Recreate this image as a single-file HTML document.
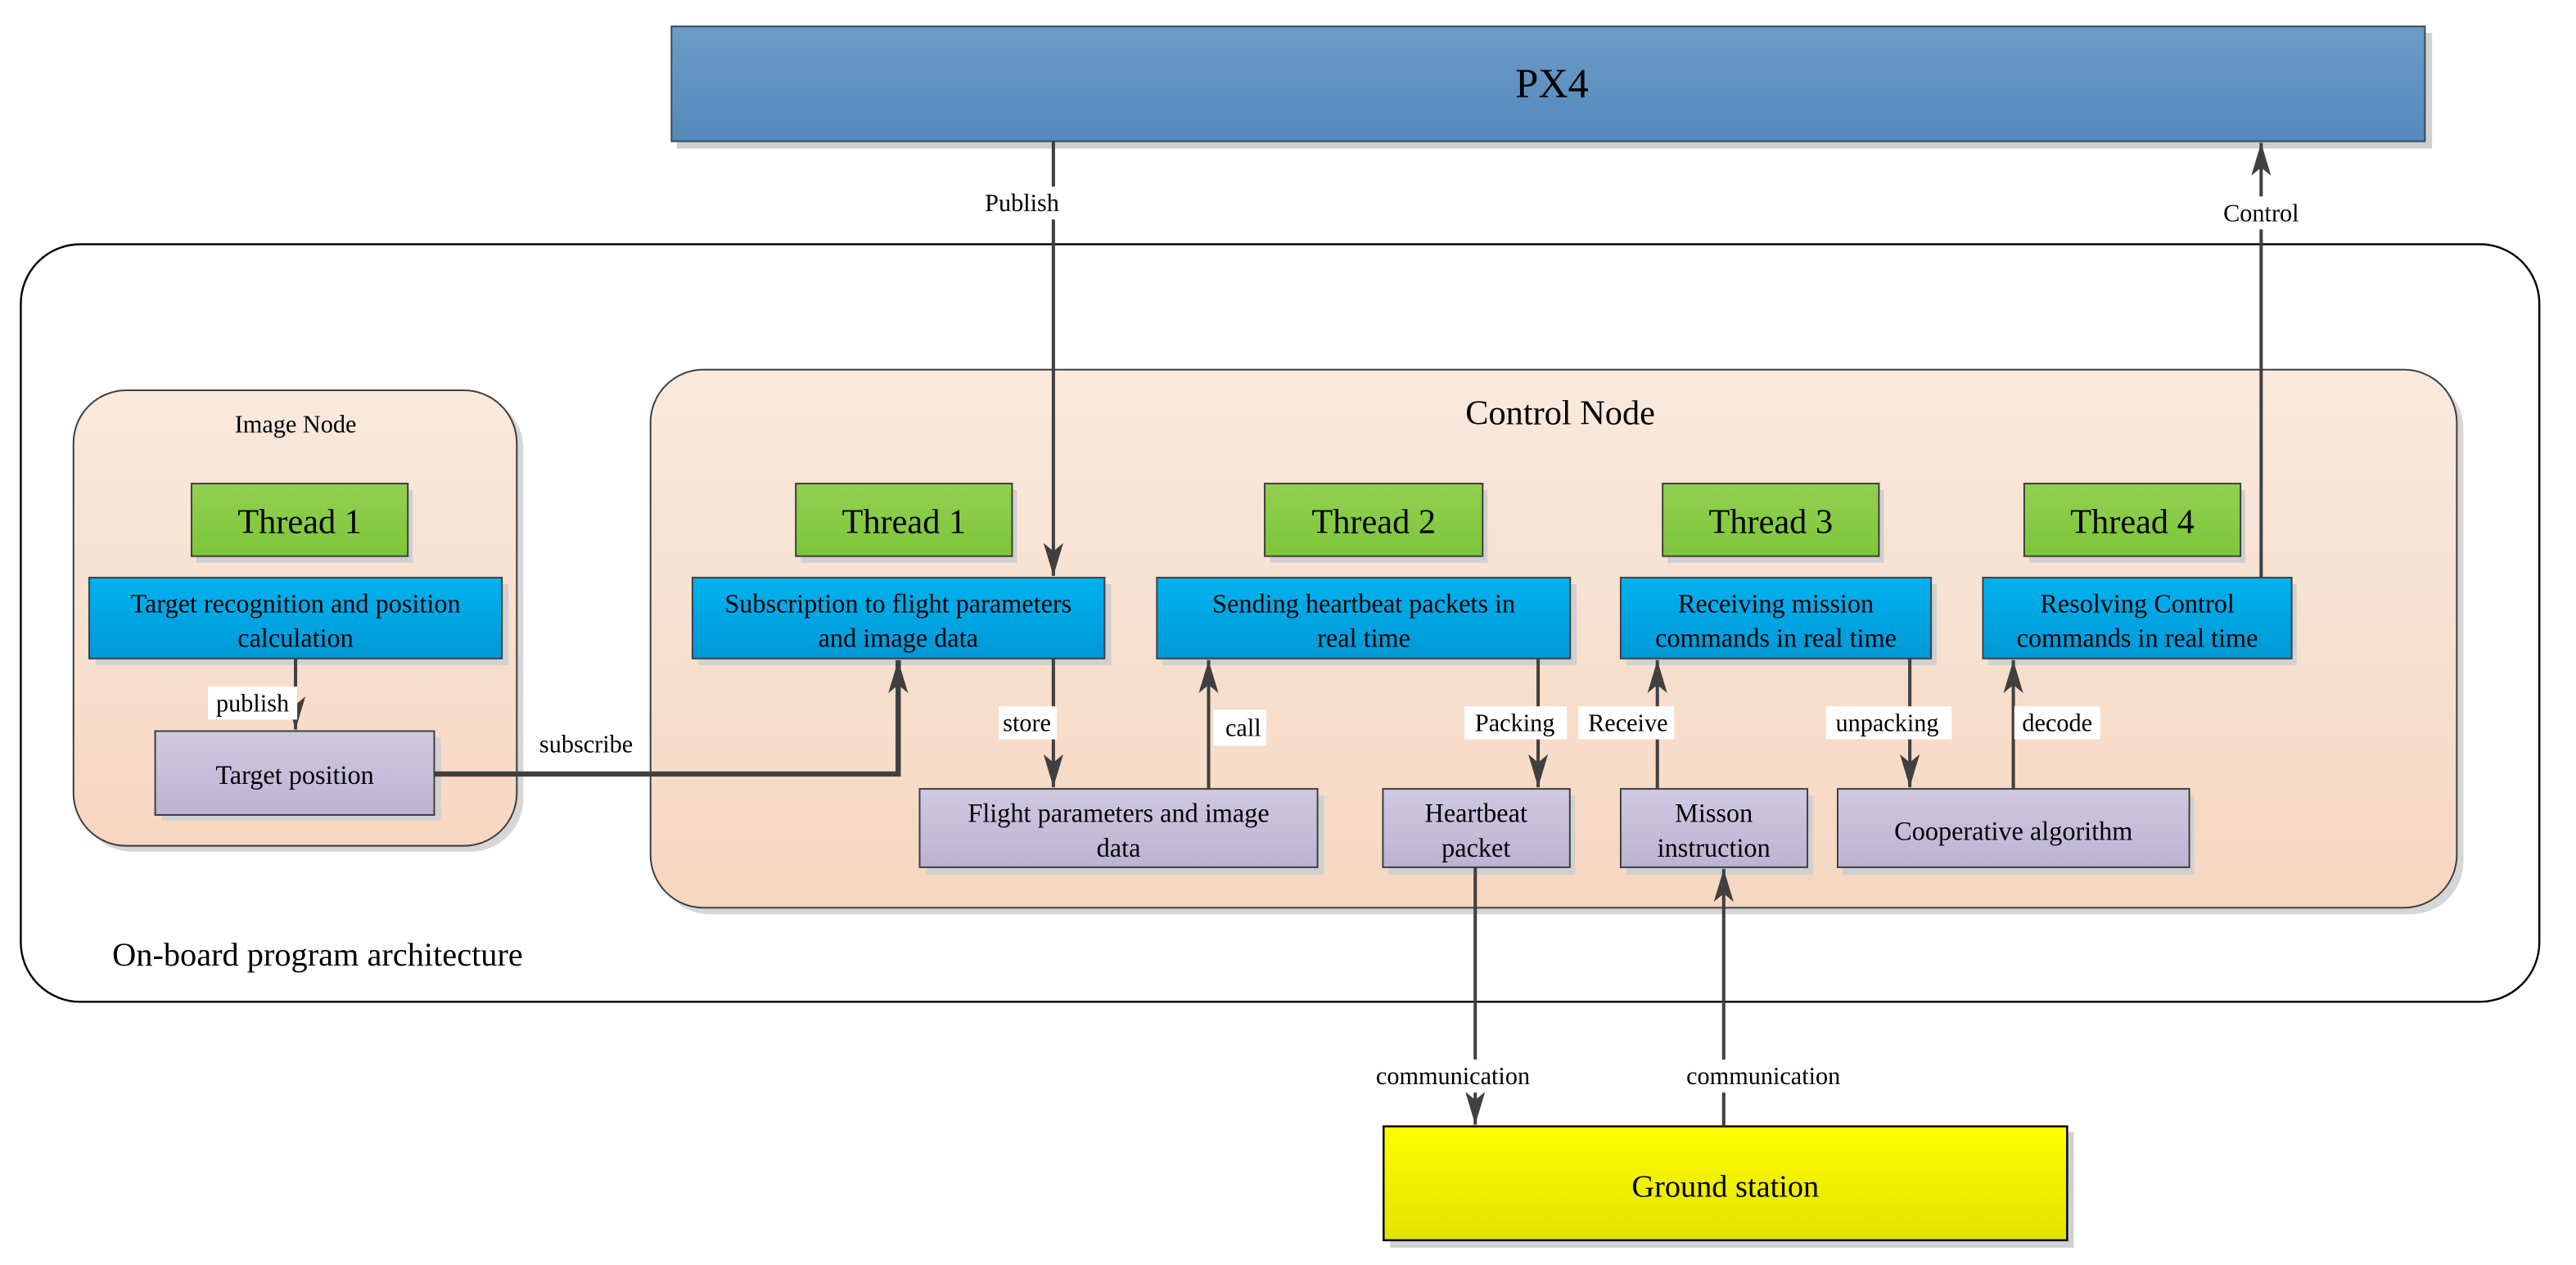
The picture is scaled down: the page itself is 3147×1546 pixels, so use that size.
<!DOCTYPE html>
<html><head><meta charset="utf-8"><style>html,body{margin:0;padding:0;background:#fff}svg{display:block}svg text{font-family:"Liberation Serif","DejaVu Serif",serif}</style></head>
<body>
<svg width="3147" height="1546" viewBox="0 0 1560.2 766.5" preserveAspectRatio="none" xmlns="http://www.w3.org/2000/svg">
<defs>
<linearGradient id="gb" x1="0" y1="0" x2="0" y2="1"><stop offset="0" stop-color="#6c9cc8"/><stop offset="1" stop-color="#5389bb"/></linearGradient>
<linearGradient id="gn" x1="0" y1="0" x2="0" y2="1"><stop offset="0" stop-color="#f9e9dd"/><stop offset="1" stop-color="#f6d7c1"/></linearGradient>
<linearGradient id="gg" x1="0" y1="0" x2="0" y2="1"><stop offset="0" stop-color="#93d050"/><stop offset="1" stop-color="#7cc63a"/></linearGradient>
<linearGradient id="gc" x1="0" y1="0" x2="0" y2="1"><stop offset="0" stop-color="#00b2f0"/><stop offset="1" stop-color="#0098d6"/></linearGradient>
<linearGradient id="gp" x1="0" y1="0" x2="0" y2="1"><stop offset="0" stop-color="#d0c9e1"/><stop offset="1" stop-color="#bbb3d1"/></linearGradient>
<linearGradient id="gy" x1="0" y1="0" x2="0" y2="1"><stop offset="0" stop-color="#ffff00"/><stop offset="1" stop-color="#e2e200"/></linearGradient>
<marker id="ah" viewBox="0 0 20 12" refX="20" refY="6" markerWidth="20" markerHeight="12" markerUnits="userSpaceOnUse" orient="auto">
<path d="M0,0 L20,6 L0,12 L5,6 Z" fill="#404040"/></marker>
</defs>

<rect x="410" y="20" width="1063" height="70" fill="#d0d0d0"/>
<rect x="406.7" y="16" width="1062" height="69.6" fill="url(#gb)" stroke="#3a4a5a" stroke-width="1"/>
<text x="940" y="59" font-size="25" text-anchor="middle">PX4</text>

<rect x="12.6" y="148" width="1525.4" height="459" rx="36" fill="#fff" stroke="#000" stroke-width="1.2"/>
<text x="68" y="585" font-size="20">On-board program architecture</text>

<rect x="48" y="240" width="269" height="276" rx="32" fill="#d6d6d6"/>
<rect x="44.5" y="236.5" width="268.5" height="276" rx="32" fill="url(#gn)" stroke="#404040" stroke-width="1"/>
<text x="179" y="262" font-size="15" text-anchor="middle">Image Node</text>

<rect x="398" y="228" width="1094" height="326" rx="32" fill="#d6d6d6"/>
<rect x="394" y="224" width="1094" height="326" rx="32" fill="url(#gn)" stroke="#404040" stroke-width="1"/>
<text x="945" y="257" font-size="21" text-anchor="middle">Control Node</text>

<g font-size="21" text-anchor="middle">
<rect x="119" y="297" width="131" height="44" fill="#d0d0d0"/><rect x="116" y="293" width="131" height="44" fill="url(#gg)" stroke="#404040"/><text x="181.5" y="323">Thread 1</text>
<rect x="485" y="297" width="131" height="44" fill="#d0d0d0"/><rect x="482" y="293" width="131" height="44" fill="url(#gg)" stroke="#404040"/><text x="547.5" y="323">Thread 1</text>
<rect x="769" y="297" width="132" height="44" fill="#d0d0d0"/><rect x="766" y="293" width="132" height="44" fill="url(#gg)" stroke="#404040"/><text x="832" y="323">Thread 2</text>
<rect x="1010" y="297" width="131" height="44" fill="#d0d0d0"/><rect x="1007" y="293" width="131" height="44" fill="url(#gg)" stroke="#404040"/><text x="1072.5" y="323">Thread 3</text>
<rect x="1229" y="297" width="131" height="44" fill="#d0d0d0"/><rect x="1226" y="293" width="131" height="44" fill="url(#gg)" stroke="#404040"/><text x="1291.5" y="323">Thread 4</text>
</g>

<g font-size="16" text-anchor="middle">
<rect x="58" y="354" width="250" height="49" fill="#d0d0d0"/><rect x="54" y="350" width="250" height="49" fill="url(#gc)" stroke="#404040"/>
<text x="179" y="371">Target recognition and position</text><text x="179" y="392">calculation</text>
<rect x="423" y="354" width="250" height="49" fill="#d0d0d0"/><rect x="419.4" y="350" width="249.6" height="49" fill="url(#gc)" stroke="#404040"/>
<text x="544" y="371">Subscription to flight parameters</text><text x="544" y="392">and image data</text>
<rect x="704" y="354" width="251" height="49" fill="#d0d0d0"/><rect x="700.7" y="350" width="250.3" height="49" fill="url(#gc)" stroke="#404040"/>
<text x="826" y="371">Sending heartbeat packets in</text><text x="826" y="392">real time</text>
<rect x="985" y="354" width="188" height="49" fill="#d0d0d0"/><rect x="981.6" y="350" width="188" height="49" fill="url(#gc)" stroke="#404040"/>
<text x="1075.6" y="371">Receiving mission</text><text x="1075.6" y="392">commands in real time</text>
<rect x="1204" y="354" width="187" height="49" fill="#d0d0d0"/><rect x="1201" y="350" width="187" height="49" fill="url(#gc)" stroke="#404040"/>
<text x="1294.5" y="371">Resolving Control</text><text x="1294.5" y="392">commands in real time</text>
</g>

<g font-size="16" text-anchor="middle">
<rect x="98" y="447" width="169" height="50" fill="#d0d0d0"/><rect x="94" y="443" width="169" height="50.8" fill="url(#gp)" stroke="#404040"/><text x="178.5" y="475">Target position</text>
<rect x="561" y="482" width="241" height="48" fill="#d0d0d0"/><rect x="557" y="478" width="241" height="47.5" fill="url(#gp)" stroke="#404040"/>
<text x="677.5" y="498">Flight parameters and image</text><text x="677.5" y="519">data</text>
<rect x="841" y="482" width="113" height="48" fill="#d0d0d0"/><rect x="837.6" y="478" width="113.2" height="47.5" fill="url(#gp)" stroke="#404040"/>
<text x="894" y="498">Heartbeat</text><text x="894" y="519">packet</text>
<rect x="985" y="482" width="113" height="48" fill="#d0d0d0"/><rect x="981.6" y="478" width="113.1" height="47.5" fill="url(#gp)" stroke="#404040"/>
<text x="1038" y="498">Misson</text><text x="1038" y="519">instruction</text>
<rect x="1116" y="482" width="213" height="48" fill="#d0d0d0"/><rect x="1113" y="478" width="213" height="47.5" fill="url(#gp)" stroke="#404040"/>
<text x="1219.5" y="509">Cooperative algorithm</text>
</g>

<rect x="842" y="686" width="414" height="70" fill="#d0d0d0"/>
<rect x="838" y="682.5" width="414" height="69" fill="url(#gy)" stroke="#000" stroke-width="1.2"/>
<text x="1045" y="725" font-size="19" text-anchor="middle">Ground station</text>

<g stroke="#404040" stroke-width="2" fill="none">
<line x1="638" y1="85.6" x2="638" y2="349" marker-end="url(#ah)"/>
<line x1="1369.5" y1="350" x2="1369.5" y2="86.5" marker-end="url(#ah)"/>
<line x1="179" y1="399" x2="179" y2="442" marker-end="url(#ah)"/>
<polyline points="263,469 544,469 544,400" stroke-width="3.2" marker-end="url(#ah)"/>
<line x1="638" y1="399" x2="638" y2="477" marker-end="url(#ah)"/>
<line x1="732" y1="478" x2="732" y2="400" marker-end="url(#ah)"/>
<line x1="931.6" y1="399" x2="931.6" y2="477" marker-end="url(#ah)"/>
<line x1="1003.8" y1="478" x2="1003.8" y2="400" marker-end="url(#ah)"/>
<line x1="1156.7" y1="399" x2="1156.7" y2="477" marker-end="url(#ah)"/>
<line x1="1219.4" y1="478" x2="1219.4" y2="400" marker-end="url(#ah)"/>
<line x1="893.5" y1="525.5" x2="893.5" y2="681.5" marker-end="url(#ah)"/>
<line x1="1044" y1="682.5" x2="1044" y2="526.5" marker-end="url(#ah)"/>
</g>

<g font-size="15" text-anchor="middle">
<rect x="590" y="113" width="58" height="20" fill="#fff"/><text x="619" y="128">Publish</text>
<rect x="1338" y="119" width="63" height="20" fill="#fff"/><text x="1369.5" y="134">Control</text>
<rect x="126" y="416" width="54" height="20" fill="#fff"/><text x="153" y="431">publish</text>
<text x="355" y="456">subscribe</text>
<rect x="605" y="428" width="35" height="20" fill="#fff"/><text x="622" y="443">store</text>
<rect x="735" y="430" width="32" height="22" fill="#fff"/><text x="753" y="446">call</text>
<rect x="887" y="428" width="62" height="20" fill="#fff"/><text x="917.5" y="443">Packing</text>
<rect x="956" y="428" width="58" height="20" fill="#fff"/><text x="986" y="443">Receive</text>
<rect x="1106" y="428" width="76" height="20" fill="#fff"/><text x="1143" y="443">unpacking</text>
<rect x="1220" y="428" width="52" height="20" fill="#fff"/><text x="1246" y="443">decode</text>
<rect x="826" y="642" width="110" height="20" fill="#fff"/><text x="880" y="657">communication</text>
<rect x="1013" y="642" width="110" height="20" fill="#fff"/><text x="1068" y="657">communication</text>
</g>
</svg>
</body></html>
